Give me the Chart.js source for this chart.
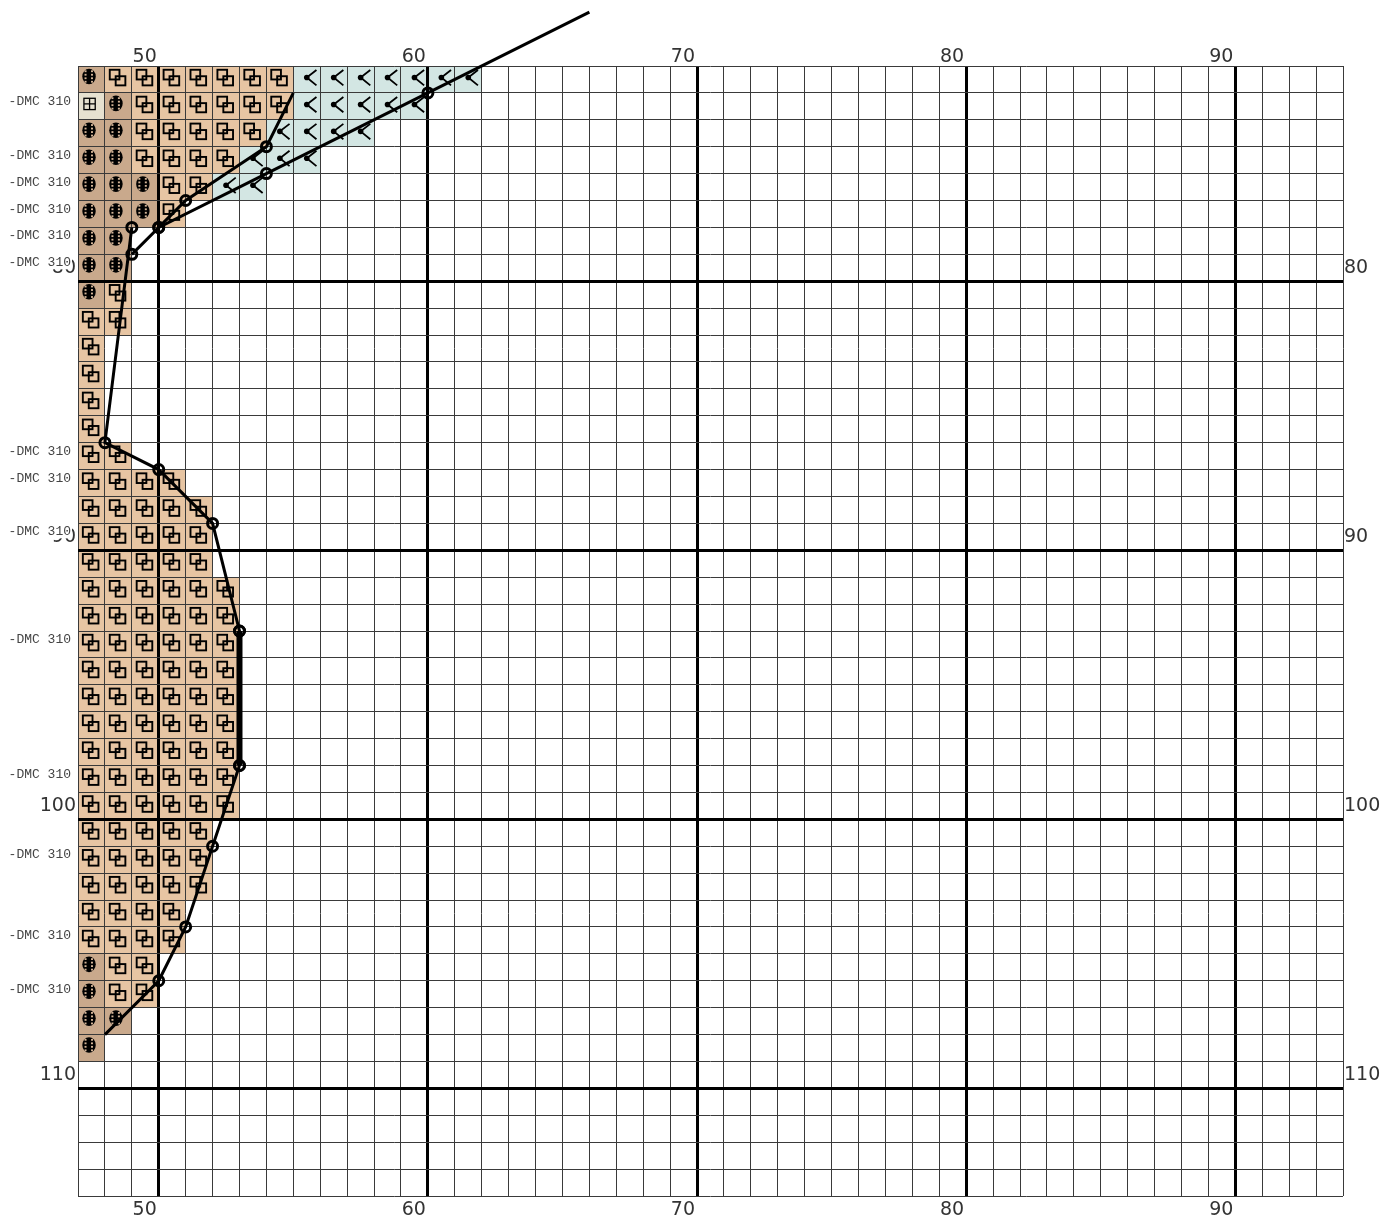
<!DOCTYPE html>
<html lang="en">
<head>
<meta charset="UTF-8">
<title>Pattern chart</title>
<script src="https://cdn.jsdelivr.net/npm/chart.js@4"></script>
<style>
  body { margin: 0; background: #fff; }
  #wrap { width: 1399px; height: 1222px; position: relative; }
</style>
</head>
<body>
<div id="wrap"><canvas id="pattern"></canvas></div>
<script>
// grid extent in stitch units
const xMin = 47, xMax = 94;
const yMin = 72, yMax = 114;
const xTickLabels = [50, 60, 70, 80, 90];
const yTickLabels = [80, 90, 100, 110];

// filled cells, each entry is [row, firstCol, lastCol]
const ballCells = [
  [72, 47, 47], [73, 48, 48], [74, 47, 48], [75, 47, 48], [76, 47, 49],
  [77, 47, 49], [78, 47, 48], [79, 47, 48], [80, 47, 47],
  [105, 47, 47], [106, 47, 47], [107, 47, 48], [108, 47, 47]
];
const plusCells = [[73, 47, 47]];
const squareCells = [
  [72, 48, 54], [73, 49, 54], [74, 49, 53], [75, 49, 52], [76, 50, 51], [77, 50, 50],
  [80, 48, 48], [81, 47, 48], [82, 47, 47], [83, 47, 47], [84, 47, 47], [85, 47, 47],
  [86, 47, 48], [87, 47, 50], [88, 47, 51], [89, 47, 51], [90, 47, 51],
  [91, 47, 52], [92, 47, 52], [93, 47, 52], [94, 47, 52], [95, 47, 52],
  [96, 47, 52], [97, 47, 52], [98, 47, 52], [99, 47, 52],
  [100, 47, 51], [101, 47, 51], [102, 47, 51], [103, 47, 50], [104, 47, 50],
  [105, 48, 49], [106, 48, 49]
];
const chevronCells = [[72, 55, 61], [73, 55, 59], [74, 54, 57], [75, 53, 55], [76, 52, 53]];

// backstitch runs (DMC 310), [x, y] at grid corners
const lineA = [[66, 70], [60, 73], [54, 76], [50, 78], [49, 79]];
const lineB = [[55, 73], [54, 75], [51, 77], [50, 78]];
const lineC = [[49, 78], [48, 86], [50, 87], [52, 89], [53, 93], [53, 98], [52, 101], [51, 104], [50, 106], [48, 108]];
const lineThick = [[53, 93], [53, 98]];

const threadLabel = '-DMC 310';
const threadRows = [73, 75, 76, 77, 78, 79, 86, 87, 89, 93, 98, 101, 104, 106];

const toPts = arr => arr.map(([x, y]) => ({x, y}));

// symbols, s = cell size in px
function drawBall(ctx, l, t, s) {
  const cx = l + 0.41 * s, cy = t + 0.39 * s;
  ctx.fillStyle = '#000';
  ctx.beginPath();
  ctx.ellipse(cx, cy, 0.25 * s, 0.29 * s, 0, 0, Math.PI * 2);
  ctx.fill();
  ctx.fillStyle = '#d2b396';
  for (let k = -1.5; k <= 1.5; k++) {
    const yy = cy + k * 0.13 * s;
    ctx.fillRect(cx - 0.13 * s - 1, yy - 0.9, 2, 1.8);
    ctx.fillRect(cx + 0.11 * s - 1, yy - 0.9, 2, 1.8);
  }
}
function drawSquares(ctx, l, t, s) {
  ctx.strokeStyle = '#000';
  ctx.lineWidth = 1.9;
  ctx.strokeRect(l + 0.18 * s, t + 0.14 * s, 0.36 * s, 0.36 * s);
  ctx.strokeRect(l + 0.4 * s, t + 0.38 * s, 0.36 * s, 0.34 * s);
}
function drawChevron(ctx, l, t, s) {
  const vx = l + 0.5 * s, vy = t + 0.43 * s;
  ctx.strokeStyle = '#000';
  ctx.lineWidth = 1.8;
  ctx.beginPath();
  ctx.moveTo(l + 0.86 * s, t + 0.15 * s);
  ctx.lineTo(vx, vy);
  ctx.lineTo(l + 0.86 * s, t + 0.72 * s);
  ctx.stroke();
  ctx.fillStyle = '#000';
  ctx.beginPath();
  ctx.arc(vx, vy, 2.8, 0, Math.PI * 2);
  ctx.fill();
}
function drawPlus(ctx, l, t, s) {
  const x0 = l + 0.22 * s, y0 = t + 0.2 * s, w = 0.42 * s;
  ctx.strokeStyle = '#000';
  ctx.lineWidth = 1.3;
  ctx.strokeRect(x0, y0, w, w);
  ctx.beginPath();
  ctx.moveTo(x0 + w / 2, y0); ctx.lineTo(x0 + w / 2, y0 + w);
  ctx.moveTo(x0, y0 + w / 2); ctx.lineTo(x0 + w, y0 + w / 2);
  ctx.stroke();
}

const cellPlugin = {
  id: 'cells',
  beforeDraw(chart) {
    const {ctx, scales: {x, y}} = chart;
    const paint = (runs, fill, mark) => {
      runs.forEach(([row, c0, c1]) => {
        for (let c = c0; c <= c1; c++) {
          const l = x.getPixelForValue(c), r = x.getPixelForValue(c + 1);
          const t = y.getPixelForValue(row), b = y.getPixelForValue(row + 1);
          ctx.fillStyle = fill;
          ctx.fillRect(l, t, r - l, b - t);
          mark(ctx, l, t, r - l);
        }
      });
    };
    ctx.save();
    paint(ballCells, '#c9a98c', drawBall);
    paint(plusCells, '#e6e1d0', drawPlus);
    paint(squareCells, '#e7c5a3', drawSquares);
    paint(chevronCells, '#d3e6e3', drawChevron);
    ctx.restore();
  }
};

const labelPlugin = {
  id: 'labels',
  afterDraw(chart) {
    const {ctx, chartArea: a, scales: {x, y}} = chart;
    ctx.save();
    ctx.font = '19px "DejaVu Sans"';
    ctx.fillStyle = '#333';
    ctx.textBaseline = 'alphabetic';
    ctx.textAlign = 'right';
    xTickLabels.forEach(v => {
      const px = x.getPixelForValue(v) - 2;
      ctx.fillText(String(v), px, a.top - 4);
      ctx.fillText(String(v), px, a.bottom + 19);
    });
    yTickLabels.forEach(v => {
      const py = y.getPixelForValue(v) - 8;
      ctx.textAlign = 'right';
      ctx.fillText(String(v), a.left - 2, py);
      ctx.textAlign = 'left';
      ctx.fillText(String(v), a.right + 1, py);
    });
    // thread labels sit on a white patch, hiding the tick numbers behind
    ctx.font = '13px "Liberation Mono"';
    ctx.textAlign = 'right';
    const w = ctx.measureText(threadLabel).width;
    threadRows.forEach(r => {
      const py = y.getPixelForValue(r);
      ctx.fillStyle = '#fff';
      ctx.fillRect(a.left - 8 - w, py + 1, w + 2, 14);
      ctx.fillStyle = '#444';
      ctx.fillText(threadLabel, a.left - 7, py + 12);
    });
    ctx.restore();
  }
};

const knotDot = loose => ctx => loose.includes(ctx.dataIndex) ? 0 : 5;
const stitch = (arr, width, loose) => ({
  data: toPts(arr),
  showLine: true,
  borderColor: '#000',
  borderWidth: width,
  pointRadius: knotDot(loose),
  pointBorderWidth: 3,
  pointBorderColor: '#000',
  pointBackgroundColor: 'rgba(0,0,0,0)',
  clip: false
});

const gridOpts = {
  color: c => (c.tick && c.tick.value % 10 === 0) ? '#000' : '#3a3a3a',
  lineWidth: c => (c.tick && c.tick.value % 10 === 0) ? 3 : 1,
  drawTicks: false
};

new Chart(document.getElementById('pattern'), {
  type: 'scatter',
  data: {
    datasets: [
      stitch(lineThick, 6, []),
      stitch(lineA, 3, [0]),
      stitch(lineB, 3, [0]),
      stitch(lineC, 3, [lineC.length - 1])
    ]
  },
  options: {
    responsive: true,
    maintainAspectRatio: false,
    animation: false,
    layout: { padding: { left: 78, right: 56, top: 66, bottom: 26 } },
    plugins: { legend: { display: false }, tooltip: { enabled: false } },
    scales: {
      x: {
        type: 'linear', min: xMin, max: xMax,
        ticks: { stepSize: 1, display: false, autoSkip: false },
        grid: gridOpts,
        border: { display: false },
        afterFit: s => { s.height = 0; }
      },
      y: {
        type: 'linear', min: yMin, max: yMax, reverse: true,
        ticks: { stepSize: 1, display: false, autoSkip: false },
        grid: gridOpts,
        border: { display: false },
        afterFit: s => { s.width = 0; }
      }
    }
  },
  plugins: [cellPlugin, labelPlugin]
});
</script>
</body>
</html>
